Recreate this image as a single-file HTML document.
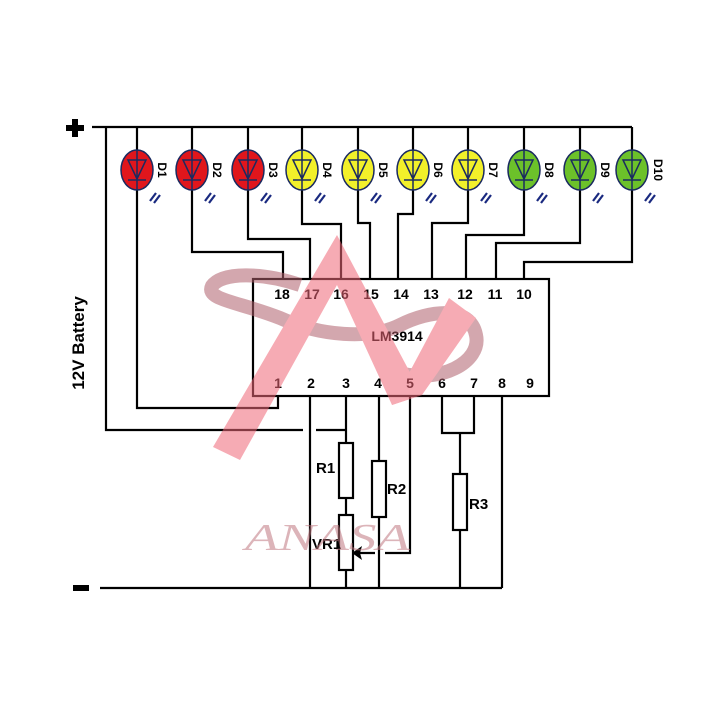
<!DOCTYPE html>
<html><head><meta charset="utf-8"><style>
html,body{margin:0;padding:0;background:#fff;width:720px;height:720px;overflow:hidden}
svg{display:block}
text{font-family:"Liberation Sans",sans-serif;font-weight:bold}
</style></head><body>
<svg width="720" height="720" viewBox="0 0 720 720" xmlns="http://www.w3.org/2000/svg">
<g stroke="#000" stroke-width="2.2" fill="none">
<path d="M92 127 H632"/>
<path d="M106 127 V430 H303 M316 430 H346"/>
<path d="M137 127 V150 M192 127 V150 M248 127 V150 M302 127 V150 M358 127 V150 M413 127 V150 M468 127 V150 M524 127 V150 M580 127 V150 M632 127 V150"/>
<path d="M137 190 V408 H278 V396"/>
<path d="M192 190 V252 H283 V279"/>
<path d="M248 190 V239 H310 V279"/>
<path d="M302 190 V224 H341 V279"/>
<path d="M358 190 V223 H370 V279"/>
<path d="M413 190 V214 H398 V279"/>
<path d="M468 190 V223 H432 V279"/>
<path d="M524 190 V235 H466 V279"/>
<path d="M580 190 V243 H496 V279"/>
<path d="M632 190 V262 H524 V279"/>
<rect x="253" y="279" width="296" height="117" fill="#fff"/>
<path d="M310 396 V588"/>
<path d="M346 396 V443"/>
<path d="M346 498 V515 M346 570 V588"/>
<path d="M379 396 V461 M379 517 V588"/>
<path d="M410 396 V553 H385"/>
<path d="M350 553 H375"/>
<path d="M442 396 V433 H474 V396 M460 433 V474 M460 530 V588"/>
<path d="M502 396 V588"/>
<path d="M100 588 H502"/>
<rect x="339" y="443" width="14" height="55" fill="#fff"/>
<rect x="339" y="515" width="14" height="55" fill="#fff"/>
<rect x="372" y="461" width="14" height="56" fill="#fff"/>
<rect x="453" y="474" width="14" height="56" fill="#fff"/>
</g>
<path d="M352 553 L362 546 L360 553 L362 560 Z" fill="#000"/>
<rect x="66" y="125" width="18" height="6" fill="#000"/>
<rect x="72" y="119" width="6" height="18" fill="#000"/>
<rect x="73" y="585" width="16" height="6" fill="#000"/>
<g stroke="#1a2a60" stroke-width="1.5">
<g fill="#e0161c">
<ellipse cx="137" cy="170" rx="16" ry="20"/><ellipse cx="192" cy="170" rx="16" ry="20"/><ellipse cx="248" cy="170" rx="16" ry="20"/></g>
<g fill="#f2f02a">
<ellipse cx="302" cy="170" rx="16" ry="20"/><ellipse cx="358" cy="170" rx="16" ry="20"/><ellipse cx="413" cy="170" rx="16" ry="20"/><ellipse cx="468" cy="170" rx="16" ry="20"/></g>
<g fill="#6cc12a">
<ellipse cx="524" cy="170" rx="16" ry="20"/><ellipse cx="580" cy="170" rx="16" ry="20"/><ellipse cx="632" cy="170" rx="16" ry="20"/></g>
</g>
<g stroke="#1a2a60" stroke-width="1.5" fill="none">
<path d="M128 160 H146 L137 179 Z M128 180 H146 M137 150 V190"/>
<path d="M183 160 H201 L192 179 Z M183 180 H201 M192 150 V190"/>
<path d="M239 160 H257 L248 179 Z M239 180 H257 M248 150 V190"/>
<path d="M293 160 H311 L302 179 Z M293 180 H311 M302 150 V190"/>
<path d="M349 160 H367 L358 179 Z M349 180 H367 M358 150 V190"/>
<path d="M404 160 H422 L413 179 Z M404 180 H422 M413 150 V190"/>
<path d="M459 160 H477 L468 179 Z M459 180 H477 M468 150 V190"/>
<path d="M515 160 H533 L524 179 Z M515 180 H533 M524 150 V190"/>
<path d="M571 160 H589 L580 179 Z M571 180 H589 M580 150 V190"/>
<path d="M623 160 H641 L632 179 Z M623 180 H641 M632 150 V190"/>
</g>
<g stroke="#1a2a80" stroke-width="2.2">
<path d="M150 201 L156 193 M154 203 L160 195"/><path d="M205 201 L211 193 M209 203 L215 195"/><path d="M261 201 L267 193 M265 203 L271 195"/>
<path d="M315 201 L321 193 M319 203 L325 195"/><path d="M371 201 L377 193 M375 203 L381 195"/><path d="M426 201 L432 193 M430 203 L436 195"/>
<path d="M481 201 L487 193 M485 203 L491 195"/><path d="M537 201 L543 193 M541 203 L547 195"/><path d="M593 201 L599 193 M597 203 L603 195"/><path d="M645 201 L651 193 M649 203 L655 195"/>
</g>
<g font-size="12" fill="#000">
<text transform="translate(158,170) rotate(90)" text-anchor="middle">D1</text>
<text transform="translate(213,170) rotate(90)" text-anchor="middle">D2</text>
<text transform="translate(269,170) rotate(90)" text-anchor="middle">D3</text>
<text transform="translate(323,170) rotate(90)" text-anchor="middle">D4</text>
<text transform="translate(379,170) rotate(90)" text-anchor="middle">D5</text>
<text transform="translate(434,170) rotate(90)" text-anchor="middle">D6</text>
<text transform="translate(489,170) rotate(90)" text-anchor="middle">D7</text>
<text transform="translate(545,170) rotate(90)" text-anchor="middle">D8</text>
<text transform="translate(601,170) rotate(90)" text-anchor="middle">D9</text>
<text transform="translate(654,170) rotate(90)" text-anchor="middle">D10</text>
</g>
<g font-size="14" fill="#000" text-anchor="middle">
<text x="282" y="299">18</text><text x="312" y="299">17</text><text x="341" y="299">16</text><text x="371" y="299">15</text><text x="401" y="299">14</text><text x="431" y="299">13</text><text x="465" y="299">12</text><text x="495" y="299">11</text><text x="524" y="299">10</text>
<text x="278" y="388">1</text><text x="311" y="388">2</text><text x="346" y="388">3</text><text x="378" y="388">4</text><text x="410" y="388">5</text><text x="442" y="388">6</text><text x="474" y="388">7</text><text x="502" y="388">8</text><text x="530" y="388">9</text>
<text x="397" y="341">LM3914</text>
</g>
<g font-size="15" fill="#000" style="font-weight:normal">
<text x="316" y="473">R1</text><text x="387" y="494">R2</text><text x="469" y="509">R3</text><text x="312" y="549">VR1</text>
</g>
<text transform="translate(84,343) rotate(-90)" text-anchor="middle" font-size="17" fill="#000">12V Battery</text>
<g opacity="0.55">
<path d="M395 372 C440 385 482 362 476 335 C470 305 430 310 400 325 C370 340 320 336 280 318 C240 302 205 300 212 286 C222 272 262 272 300 285" stroke="#b0606c" stroke-width="14" fill="none"/>
<path d="M213 447 L240 460 L337 285 L392 405 L422 395 L337 235 Z" fill="#f06878"/>
<path d="M392 405 L422 395 L476 318 L449 298 Z" fill="#f06878"/>
<text x="245" y="550" font-size="38" font-style="italic" fill="#c07880" textLength="165" lengthAdjust="spacingAndGlyphs" style="font-family:'Liberation Serif',serif;font-weight:normal">ANASA</text>
</g>
</svg>
</body></html>
